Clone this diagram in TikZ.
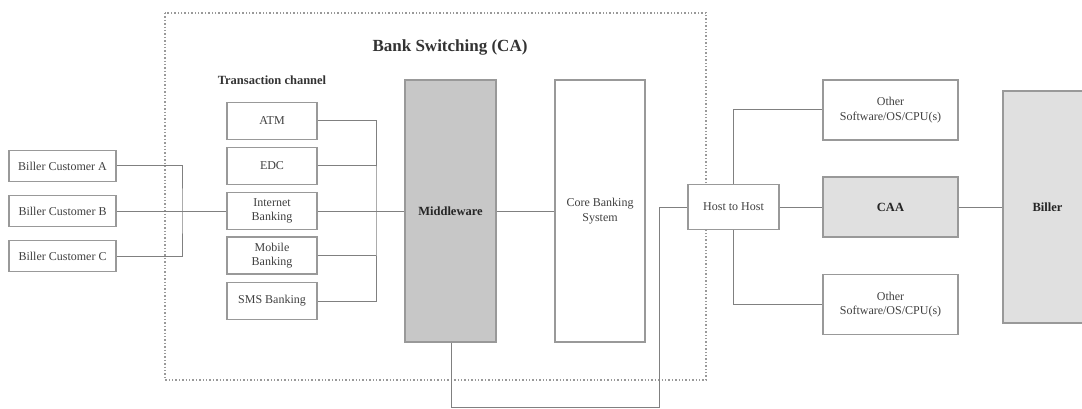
\documentclass[tikz,border=0pt]{standalone}
\usepackage{fontspec}
\setmainfont{Liberation Serif}
\begin{document}
\begin{tikzpicture}[x=1pt,y=-1pt,
  box/.style={draw=black!40,line width=1.1pt,fill=white,inner sep=1pt,align=center,
    font=\fontsize{12}{14.5}\selectfont,text=black!75},
  conn/.style={draw=black!50,line width=1pt},
  dotbox/.style={draw=black!40,line width=1.4pt,dotted}]
\useasboundingbox (0,0) rectangle (1082,409);
\clip (0,0) rectangle (1082,409);
% frame
\draw[dotbox] (165,13) rectangle (706,380);
\node[font=\fontsize{17}{20}\selectfont\bfseries,text=black!80] (title) at (450,47) {Bank Switching (CA)};
\node[font=\fontsize{12.5}{15}\selectfont\bfseries,text=black!80] (tc) at (272,80) {Transaction channel};
% customers
\node[box,minimum width=107pt,minimum height=31pt] (bca) at (62.5,166) {Biller Customer A};
\node[box,minimum width=107pt,minimum height=31pt] (bcb) at (62.5,211) {Biller Customer B};
\node[box,minimum width=107pt,minimum height=31pt] (bcc) at (62.5,256) {Biller Customer C};
% channels
\node[box,minimum width=90pt,minimum height=37pt] (atm) at (272,121) {ATM};
\node[box,minimum width=90pt,minimum height=37pt] (edc) at (272,166) {EDC};
\node[box,minimum width=90pt,minimum height=37pt] (ib) at (272,211) {Internet\\Banking};
\node[box,minimum width=90pt,minimum height=37pt] (mb) at (272,255.5) {Mobile\\Banking};
\node[box,minimum width=90pt,minimum height=37pt] (sms) at (272,301) {SMS Banking};
% middleware and core
\node[box,fill=black!22,minimum width=91pt,minimum height=262pt,font=\fontsize{12.5}{15}\selectfont\bfseries,text=black!85] (mw) at (450.5,211) {Middleware};
\node[box,minimum width=90pt,minimum height=262pt] (core) at (600,211) {Core Banking\\System};
% right side
\node[box,minimum width=91pt,minimum height=45pt] (h2h) at (733.5,207) {Host to Host};
\node[box,minimum width=135pt,minimum height=60pt] (o1) at (890.5,110) {Other\\Software/OS/CPU(s)};
\node[box,fill=black!12,minimum width=135pt,minimum height=60pt,font=\fontsize{12.5}{15}\selectfont\bfseries,text=black!85] (caa) at (890.5,207) {CAA};
\node[box,minimum width=135pt,minimum height=60pt] (o2) at (890.5,304.5) {Other\\Software/OS/CPU(s)};
\node[box,fill=black!12,minimum width=89pt,minimum height=232pt,font=\fontsize{12.5}{15}\selectfont\bfseries,text=black!85] (biller) at (1047.5,207) {Biller};
% connectors left bracket
\coordinate (lb) at (182,211);
\draw[conn] (bca.east) -| (lb) |- (bcc.east);
\draw[conn] (bcb.east) -- (ib.west);
% right bracket
\coordinate (rb) at (376,211);
\draw[conn] (atm.east) -| (rb) |- (sms.east);
\draw[conn] (edc.east) -- (edc.east -| rb);
\draw[conn] (mb.east) -- (mb.east -| rb);
\draw[conn] (ib.east) -- (mw.west);
\draw[conn] (mw.east |- core.west) -- (core.west);
% middleware to host
\coordinate (mwb) at (451,407);
\coordinate (hb) at (659,407);
\draw[conn] (mw.south -| mwb) -- (mwb) -- (hb) |- (h2h.west);
% host to others
\draw[conn] (h2h.north) |- (o1.west);
\draw[conn] (h2h.south) |- (o2.west);
\draw[conn] (h2h.east) -- (caa.west);
\draw[conn] (caa.east) -- (biller.west);
\end{tikzpicture}
\end{document}
